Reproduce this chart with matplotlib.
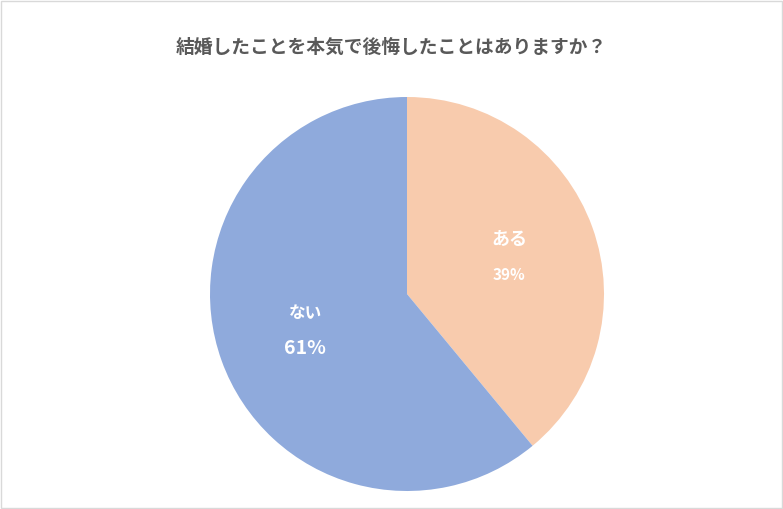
import matplotlib
matplotlib.use("Agg")
import matplotlib.pyplot as plt
import numpy as np

plt.rcParams['font.family'] = ['Noto Sans CJK JP', 'DejaVu Sans']

title = "結婚したことを本気で後悔したことはありますか？"
categories = ["ある", "ない"]
values = [39, 61]
colors = ["#F8CBAD", "#8FAADC"]

fig = plt.figure(figsize=(7.83, 5.09), dpi=100)
fig.patch.set_facecolor("#FFFFFF")
fig.add_artist(plt.Rectangle((0.001, 0.001), 0.998, 0.998, transform=fig.transFigure,
                             fill=False, edgecolor="#D9D9D9", lw=1))
ax = fig.add_axes([210/783, 18/509, 394/783, 394/509])
wedges, _ = ax.pie(values, colors=colors, startangle=90, counterclock=False,
                   wedgeprops=dict(linewidth=0), radius=1)
ax.set_xlim(-1, 1); ax.set_ylim(-1, 1)
ax.set_aspect('equal')

sizes = [(13, 11), (12, 14)]
for w, cat, v, (s1, s2) in zip(wedges, categories, values, sizes):
    ang = np.deg2rad((w.theta1 + w.theta2) / 2)
    r = 0.55
    x, y = r*np.cos(ang), r*np.sin(ang)
    ax.text(x, y + 0.09, cat, ha='center', va='center', color='white', fontsize=s1, fontweight='bold')
    ax.text(x, y - 0.09, f"{v}%", ha='center', va='center', color='white', fontsize=s2, fontweight='bold')

fig.text(0.5, 1 - 47/509, title, ha='center', va='center', fontsize=13.5,
         fontweight='bold', color='#595959')
fig.savefig("out.png", dpi=100)
